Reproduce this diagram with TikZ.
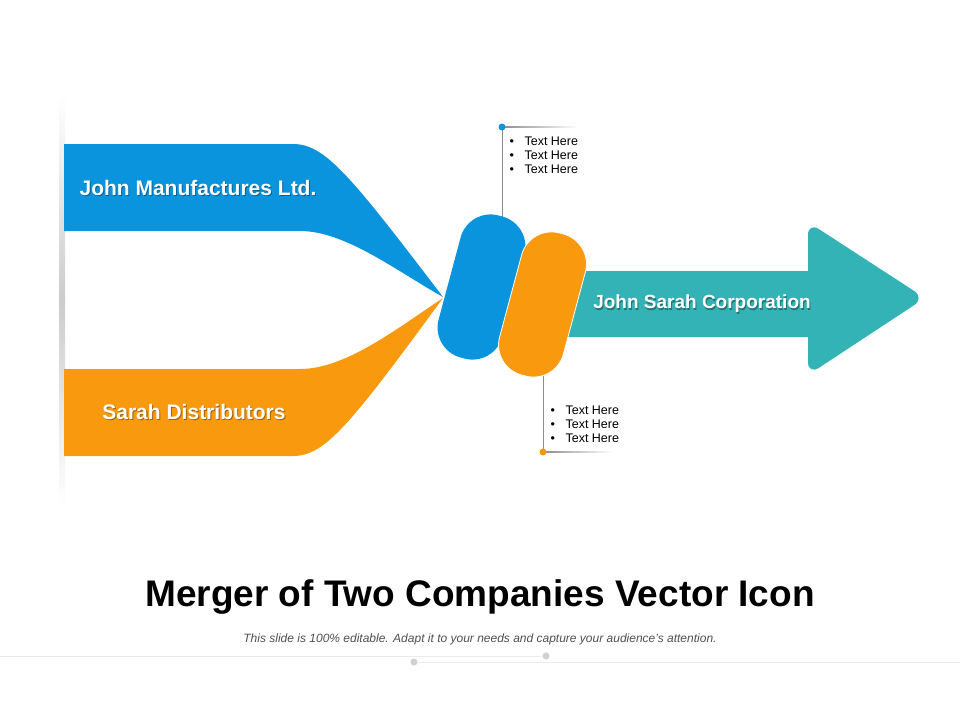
\documentclass[tikz,border=0pt]{standalone}
\usepackage{fontspec}
\setmainfont{Liberation Sans}
\definecolor{cblue}{HTML}{0B94DE}
\definecolor{corange}{HTML}{F8990E}
\definecolor{cteal}{HTML}{33B3B6}
\definecolor{cline}{HTML}{8C8C8C}
\definecolor{csub}{HTML}{505050}
\begin{document}
\begin{tikzpicture}[x=1pt,y=-1pt,
  capsule/.style={rectangle, inner sep=0pt, minimum width=66pt, minimum height=147pt, rounded corners=31pt, rotate=-15},
  bandlabel/.style={text=white, font=\bfseries\fontsize{21}{24}\selectfont, inner sep=0pt},
  shadowlabel/.style={text=black, opacity=0.35, font=\bfseries\fontsize{21}{24}\selectfont, inner sep=0pt},
  bullets/.style={align=left, anchor=north west, inner sep=0pt, font=\fontsize{12.5}{14}\selectfont},
  calline/.style={draw=cline, line width=0.8pt},
  deco/.style={draw=black!8, line width=0.8pt},
  decodot/.style={circle, fill=black!18, inner sep=0pt, minimum size=7pt}
]
\useasboundingbox (0,0) rectangle (960,720);
\fill[white] (0,0) rectangle (960,720);

% left shadow strip
\shade[top color=white, bottom color=black!20] (59,95) rectangle (65,300);
\shade[top color=black!20, bottom color=white] (59,300) rectangle (65,505);

% bands
\fill[cblue] (64,144) -- (293,144) .. controls (325,144) and (350,175) .. (443,297)
   .. controls (395,270) and (345,231) .. (300,231) -- (64,231) -- cycle;
\fill[corange] (64,456) -- (293,456) .. controls (325,456) and (350,425) .. (443,298)
   .. controls (395,330) and (345,369) .. (300,369) -- (64,369) -- cycle;

% teal arrow
\fill[cteal] (560,271) -- (808,271) [rounded corners=13pt] -- (808,222) -- (925,298) -- (808,375) [sharp corners] -- (808,337) -- (560,337) -- cycle;

% callout lines
\coordinate (topdot) at (502,127);
\coordinate (topfoot) at (502,235);
\coordinate (botdot) at (543,452);
\coordinate (botfoot) at (543,365);
\draw[calline] (topdot) -- (topfoot);
\draw[calline] (botfoot) -- (botdot);
\shade[left color=cline, right color=white] (502,126.5) rectangle (578,127.5);
\shade[left color=cline, right color=white] (543,451.5) rectangle (612,452.5);

% capsules
\node[capsule, fill=cblue] (cb) at (481.5,287) {};
\node[capsule, fill=corange, draw=white, line width=0.8pt] (co) at (542.5,304.5) {};

% dots
\fill[cblue] (topdot) circle (3.5);
\fill[corange] (botdot) circle (3.5);

% bullets
\node[bullets] (tb) at (509.5,136.5) {\textbullet\hspace{10.5pt}Text Here\\\textbullet\hspace{10.5pt}Text Here\\\textbullet\hspace{10.5pt}Text Here};
\node[bullets] (bb) at (550.5,405.5) {\textbullet\hspace{10.5pt}Text Here\\\textbullet\hspace{10.5pt}Text Here\\\textbullet\hspace{10.5pt}Text Here};

% labels
\node[shadowlabel] (l1s) at (199,189.4) {John Manufactures Ltd.};
\node[bandlabel] (l1) at (198,188) {John Manufactures Ltd.};
\node[shadowlabel] (l2s) at (195,413.4) {Sarah Distributors};
\node[bandlabel] (l2) at (194,412) {Sarah Distributors};
\node[shadowlabel, font=\bfseries\fontsize{19}{22}\selectfont] (l3s) at (703,305.4) {John Sarah Corporation};
\node[bandlabel, font=\bfseries\fontsize{19}{22}\selectfont] (l3) at (702,304) {John Sarah Corporation};

% title
\node[font=\bfseries\fontsize{37}{42}\selectfont, inner sep=0pt] (title) at (480,597) {Merger of Two Companies Vector Icon};
\node[font=\itshape\fontsize{12}{14}\selectfont, text=csub, inner sep=0pt] (sub) at (480,639) {This slide is 100\% editable. Adapt it to your needs and capture your audience's attention.};

% decoration
\node[decodot] (d1) at (546,656) {};
\node[decodot] (d2) at (414,662) {};
\coordinate (dl) at (0,656);
\coordinate (dr) at (960,662);
\draw[deco] (dl) -- (d1);
\draw[deco] (d2) -- (dr);
\end{tikzpicture}
\end{document}
